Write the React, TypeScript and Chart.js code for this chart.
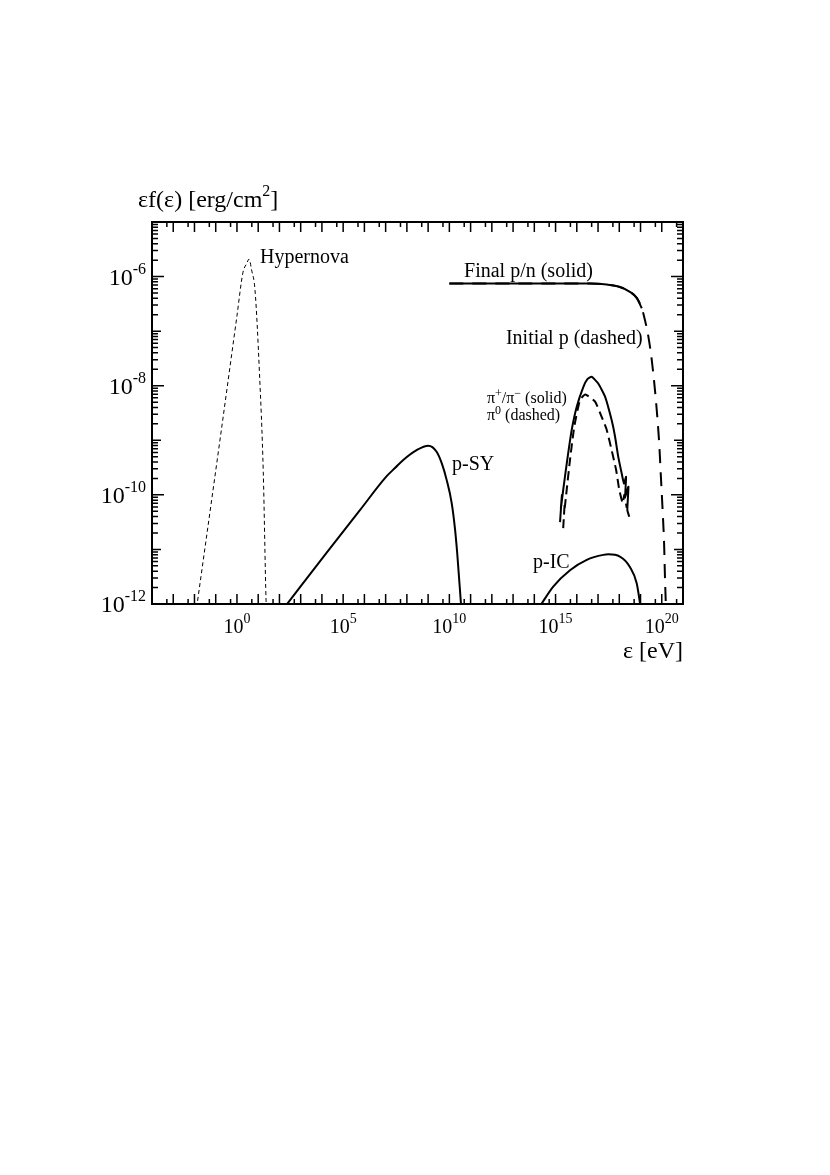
import React, { useEffect, useRef } from "react";
import { Chart, registerables } from "chart.js";

Chart.register(...registerables);

const FONT = '"Liberation Serif", "Times New Roman", serif';

// Axis ranges and tick decades
const xMin = 1e-4;
const xMax = 1e21;
const yMin = 1e-12;
const yMax = 1e-5;
const xDecadeFirst = -4;
const xDecadeLast = 21;
const yDecadeFirst = -12;
const yDecadeLast = -5;
const xLabelExponents = [0, 5, 10, 15, 20];
const yLabelExponents = [-12, -10, -8, -6];

// Hypernova (thin dashed)
const hypernovaE = [1.26e-2, 1.585e-1, 1.0, 1.905, 2.884, 3.715, 4.898, 7.079, 11.48, 17.38, 23.44, 24.55];
const hypernovaF = [8.51e-13, 1.01e-9, 1.905e-7, 1.175e-6, 1.738e-6, 2.089e-6, 1.318e-6, 5.623e-7, 1.698e-8, 2.512e-10, 1.175e-12, 7.94e-13];

// Proton synchrotron (p-SY)
const pSyE = [2.0e2, 1.679e4, 6.166e5, 1.122e7, 2.754e7, 6.761e7, 2.884e8, 1.023e9, 2.512e9, 4.365e9, 7.5e9, 1.288e10, 1.862e10, 2.344e10, 3.631e10];
const pSyF = [9.33e-13, 8.71e-12, 5.248e-11, 2.2e-10, 3.1e-10, 4.365e-10, 6.607e-10, 7.943e-10, 6.166e-10, 3.802e-10, 1.862e-10, 7.079e-11, 2.291e-11, 8.511e-12, 8.51e-13];

// Proton inverse Compton (p-IC)
const pIcE = [1.8e14, 7.762e14, 4.786e15, 2.951e16, 1.778e17, 3.02e17, 1.072e18, 3.162e18, 6.607e18, 1.0e19];
const pIcF = [9.0e-13, 2.089e-12, 4.169e-12, 6.457e-12, 7.943e-12, 8.128e-12, 7.413e-12, 4.786e-12, 2.399e-12, 9.0e-13];

// Final p/n (solid)
const finalPE = [1.0e10, 4.169e16, 2.57e17, 1.072e18, 3.162e18, 6.607e18, 1.148e19];
const finalPF = [7.46e-7, 7.46e-7, 7.16e-7, 6.457e-7, 5.248e-7, 4.074e-7, 2.63e-7];

// Initial p (dashed)
const initialPE = [1.0e10, 4.169e16, 2.57e17, 1.072e18, 3.162e18, 6.607e18, 1.148e19, 1.622e19, 2.344e19, 3.388e19, 4.786e19, 6.166e19, 7.586e19, 9.12e19, 1.096e20, 1.288e20, 1.413e20, 1.585e20];
const initialPF = [7.46e-7, 7.46e-7, 7.16e-7, 6.457e-7, 5.248e-7, 4.074e-7, 2.63e-7, 1.585e-7, 7.943e-8, 2.951e-8, 8.318e-9, 2.692e-9, 8.71e-10, 2.138e-10, 5.248e-11, 1.288e-11, 3.162e-12, 7.943e-13];

// Charged pions pi+/pi- (solid)
const pionChargedE = [1.622e15, 1.995e15, 1.778e15, 2.291e15, 3.548e15, 5.754e15, 1.0e16, 2.042e16, 3.162e16, 5.012e16, 1.023e17, 2.138e17, 4.365e17, 6.31e17, 8.913e17, 1.288e18, 1.66e18, 2.089e18, 1.905e18, 2.692e18, 2.399e18, 2.951e18];
const pionChargedF = [3.162e-11, 1.0e-10, 5.623e-11, 1.23e-10, 4.365e-10, 1.549e-9, 4.169e-9, 9.55e-9, 1.318e-8, 1.462e-8, 1.096e-8, 6.31e-9, 2.344e-9, 1.175e-9, 5.012e-10, 2.512e-10, 1.622e-10, 2.138e-10, 9.333e-11, 1.413e-10, 5.248e-11, 3.981e-11];

// Neutral pions pi0 (dashed)
const pionNeutralE = [2.291e15, 2.692e15, 2.512e15, 3.09e15, 4.786e15, 7.586e15, 1.413e16, 2.512e16, 7.244e16, 1.479e17, 2.57e17, 4.365e17, 7.079e17, 1.0e18, 1.445e18, 1.738e18, 2.239e18];
const pionNeutralF = [2.455e-11, 7.079e-11, 4.467e-11, 9.333e-11, 4.365e-10, 1.778e-9, 5.495e-9, 6.918e-9, 5.129e-9, 2.692e-9, 1.549e-9, 6.607e-10, 2.884e-10, 1.23e-10, 7.079e-11, 1.0e-10, 5.754e-11];

// Text annotations (anchored at data coordinates: left edge, baseline)
const annotationTexts = ["Hypernova", "Final p/n (solid)", "Initial p (dashed)", "p-SY", "p-IC"];
const annotationE = [12.2, 4.9e10, 4.6e12, 1.33e10, 8.7e13];
const annotationF = [1.77e-6, 9.8e-7, 5.8e-8, 2.86e-10, 4.57e-12];

type Seg = { t: string; sup?: boolean };

function drawRich(
  ctx: CanvasRenderingContext2D,
  segs: Seg[],
  x: number,
  y: number,
  size: number,
  supSize: number,
  supRise: number,
  align: "left" | "center" | "right"
) {
  let w = 0;
  for (const s of segs) {
    ctx.font = `${s.sup ? supSize : size}px ${FONT}`;
    w += ctx.measureText(s.t).width;
  }
  let cx = align === "left" ? x : align === "right" ? x - w : x - w / 2;
  ctx.textAlign = "left";
  ctx.textBaseline = "alphabetic";
  for (const s of segs) {
    ctx.font = `${s.sup ? supSize : size}px ${FONT}`;
    ctx.fillText(s.t, cx, s.sup ? y - supRise : y);
    cx += ctx.measureText(s.t).width;
  }
}

const frameTicksPlugin = {
  id: "frameTicks",
  afterDraw(chart: any) {
    const { ctx, chartArea: a, scales } = chart;
    const xs = scales.x;
    const ys = scales.y;
    ctx.save();
    ctx.fillStyle = "#000";
    ctx.strokeStyle = "#000";

    // ticks
    ctx.lineWidth = 1.5;
    const vTick = (px: number, len: number) => {
      ctx.beginPath();
      ctx.moveTo(px, a.bottom);
      ctx.lineTo(px, a.bottom - len);
      ctx.moveTo(px, a.top);
      ctx.lineTo(px, a.top + len);
      ctx.stroke();
    };
    const hTick = (py: number, len: number) => {
      ctx.beginPath();
      ctx.moveTo(a.left, py);
      ctx.lineTo(a.left + len, py);
      ctx.moveTo(a.right, py);
      ctx.lineTo(a.right - len, py);
      ctx.stroke();
    };
    for (let n = xDecadeFirst; n <= xDecadeLast; n++) {
      const pMaj = xs.getPixelForValue(Math.pow(10, n));
      if (pMaj > a.left + 1 && pMaj < a.right - 1) vTick(pMaj, 10);
      const pMin = xs.getPixelForValue(5 * Math.pow(10, n - 1));
      if (pMin > a.left + 1 && pMin < a.right - 1) vTick(pMin, 5);
    }
    for (let n = yDecadeFirst; n <= yDecadeLast; n++) {
      const pMaj = ys.getPixelForValue(Math.pow(10, n));
      const labeled = yLabelExponents.includes(n);
      if (pMaj > a.top + 1 && pMaj < a.bottom - 1) hTick(pMaj, labeled ? 12 : 9);
      if (n < yDecadeLast) {
        for (let k = 2; k <= 9; k++) {
          const p = ys.getPixelForValue(k * Math.pow(10, n));
          hTick(p, 6);
        }
      }
    }

    // frame
    ctx.lineWidth = 2;
    ctx.strokeRect(a.left, a.top, a.right - a.left, a.bottom - a.top);

    // tick labels
    for (const n of xLabelExponents) {
      const px = xs.getPixelForValue(Math.pow(10, n));
      drawRich(ctx, [{ t: "10" }, { t: String(n), sup: true }], px, a.bottom + 29, 20, 14, 10, "center");
    }
    for (const n of yLabelExponents) {
      const py = ys.getPixelForValue(Math.pow(10, n));
      drawRich(ctx, [{ t: "10" }, { t: "-" + String(-n), sup: true }], a.left - 6, py + 8, 24, 16, 11, "right");
    }

    // axis titles
    drawRich(ctx, [{ t: "\u03b5f(\u03b5) [erg/cm" }, { t: "2", sup: true }, { t: "]" }], a.left - 14, a.top - 15, 24, 16, 11, "left");
    drawRich(ctx, [{ t: "\u03b5 [eV]" }], a.right, a.bottom + 54, 24, 16, 11, "right");

    // annotations
    for (let i = 0; i < annotationTexts.length; i++) {
      const px = xs.getPixelForValue(annotationE[i]);
      const py = ys.getPixelForValue(annotationF[i]);
      drawRich(ctx, [{ t: annotationTexts[i] }], px, py, 20, 14, 9, "left");
    }
    // pion labels
    const pxPi = xs.getPixelForValue(5.9e11);
    drawRich(
      ctx,
      [{ t: "\u03c0" }, { t: "+", sup: true }, { t: "/\u03c0" }, { t: "\u2212", sup: true }, { t: " (solid)" }],
      pxPi,
      ys.getPixelForValue(4.8e-9),
      16,
      12,
      6,
      "left"
    );
    drawRich(
      ctx,
      [{ t: "\u03c0" }, { t: "0", sup: true }, { t: " (dashed)" }],
      pxPi,
      ys.getPixelForValue(2.35e-9),
      16,
      12,
      6,
      "left"
    );
    ctx.restore();
  },
};

function pts(xs: number[], ys: number[]) {
  return xs.map((x, i) => ({ x, y: ys[i] }));
}

export default function App() {
  const ref = useRef<HTMLCanvasElement | null>(null);
  useEffect(() => {
    if (!ref.current) return;
    const base = {
      borderColor: "#000",
      backgroundColor: "#000",
      pointRadius: 0,
      fill: false,
      clip: 0,
    };
    const smooth = { cubicInterpolationMode: "monotone" };
    const chart = new Chart(ref.current, {
      type: "line",
      data: {
        datasets: [
          { ...base, ...smooth, label: "Hypernova", data: pts(hypernovaE, hypernovaF), borderWidth: 1, borderDash: [4, 3] },
          { ...base, ...smooth, label: "p-SY", data: pts(pSyE, pSyF), borderWidth: 2 },
          { ...base, ...smooth, label: "p-IC", data: pts(pIcE, pIcF), borderWidth: 2 },
          { ...base, ...smooth, label: "Final p/n", data: pts(finalPE, finalPF), borderWidth: 2 },
          { ...base, ...smooth, label: "Initial p", data: pts(initialPE, initialPF), borderWidth: 2, borderDash: [14, 9] },
          { ...base, label: "pi+/pi-", data: pts(pionChargedE, pionChargedF), borderWidth: 2, tension: 0.15 },
          { ...base, label: "pi0", data: pts(pionNeutralE, pionNeutralF), borderWidth: 2, borderDash: [9, 5], tension: 0.15 },
        ],
      },
      options: {
        responsive: false,
        animation: false,
        events: [],
        layout: { padding: { left: 152, top: 222, right: 147, bottom: 571 } },
        scales: {
          x: { type: "logarithmic", min: xMin, max: xMax, display: false },
          y: { type: "logarithmic", min: yMin, max: yMax, display: false },
        },
        plugins: {
          legend: { display: false },
          tooltip: { enabled: false },
        },
      } as any,
      plugins: [frameTicksPlugin],
    });
    return () => chart.destroy();
  }, []);
  return (
    <div style={{ position: "absolute", left: 0, top: 0, width: 830, height: 1175, background: "#fff" }}>
      <canvas ref={ref} width={830} height={1175} style={{ width: 830, height: 1175, display: "block" }} />
    </div>
  );
}
